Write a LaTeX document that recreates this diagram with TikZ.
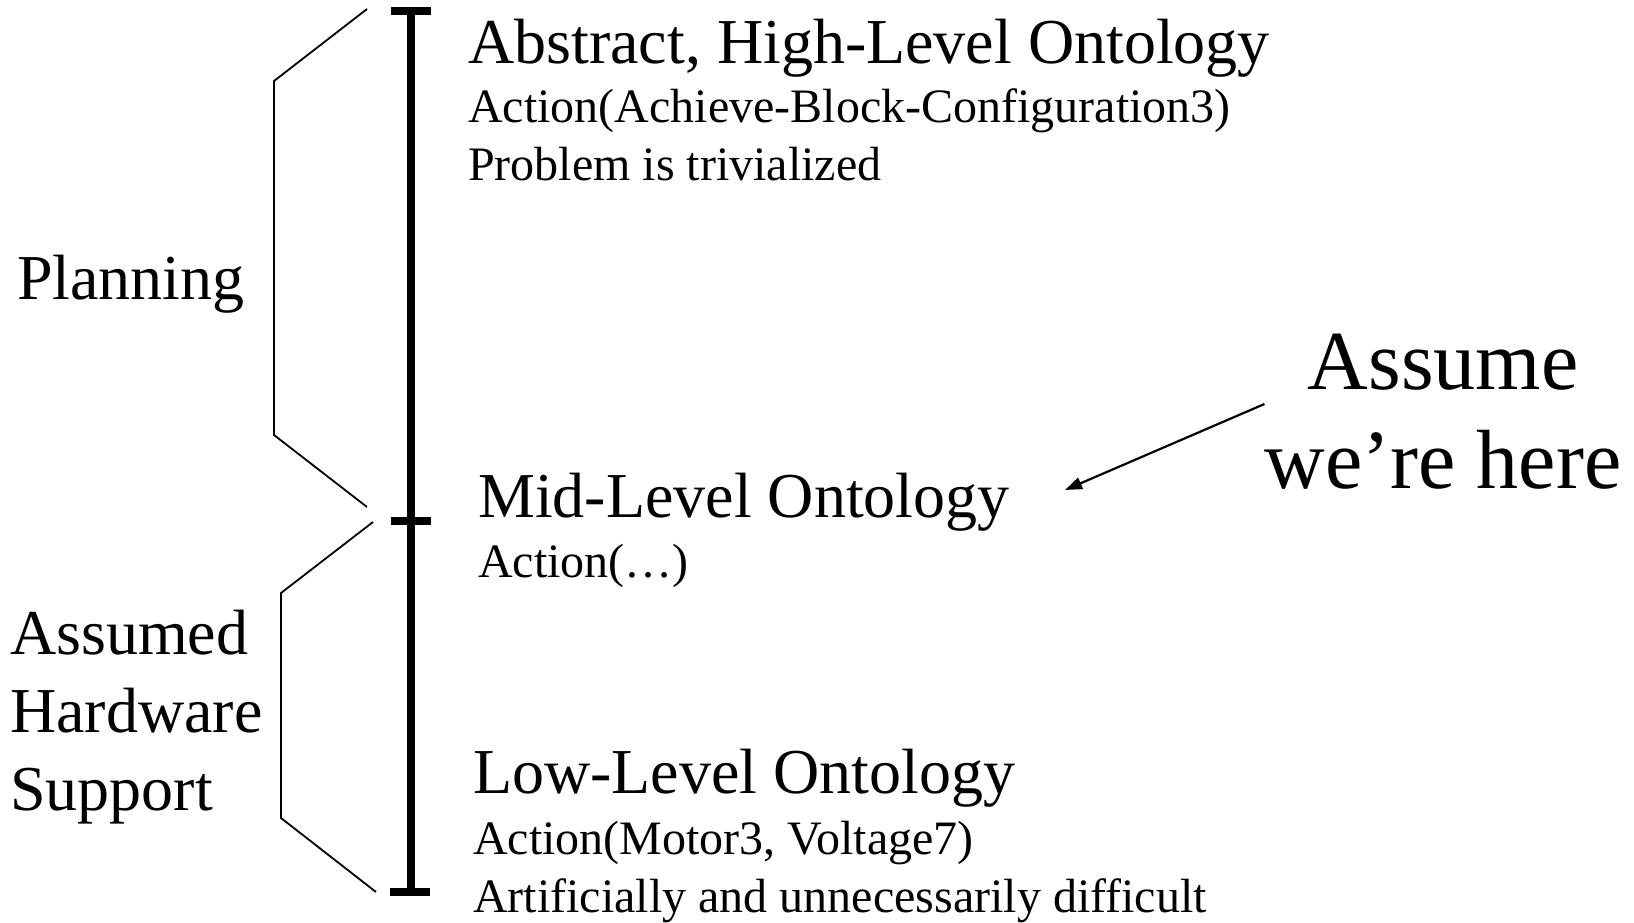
\documentclass[tikz,border=0pt]{standalone}
\usepackage{fontspec}
\setmainfont{Liberation Serif}
\usepackage{xcolor}
\usepackage{tikz}
\usetikzlibrary{arrows.meta, positioning, calc}
\definecolor{inkMain}{RGB}{0,0,0}
\tikzset{
  levelTitle/.style={anchor=base west, inner sep=0pt, text=inkMain,
    font=\fontsize{64}{70}\selectfont},
  levelNote/.style={anchor=base west, inner sep=0pt, text=inkMain,
    font=\fontsize{48}{54}\selectfont},
  sideLabel/.style={anchor=base west, inner sep=0pt, align=left, text=inkMain,
    font=\fontsize{64}{78}\selectfont},
  hereLabel/.style={inner sep=0pt, align=center, text=inkMain,
    font=\fontsize{84}{99}\selectfont},
  scaleBar/.style={draw=inkMain, line width=8pt},
  scaleTick/.style={draw=inkMain, line width=7.5pt},
  braceLine/.style={draw=inkMain, line width=1.8pt},
  pointerFlow/.style={-{Triangle[length=17pt,width=12pt]}, draw=inkMain, line width=2.2pt}
}
\begin{document}
\begin{tikzpicture}[x=1pt, y=-1pt]
  \useasboundingbox (0,0) rectangle (1634,922);

  % the ontology scale
  \coordinate (topEnd) at (411,11);
  \coordinate (midEnd) at (411,521);
  \coordinate (lowEnd) at (411,892);
  \draw[scaleBar] (topEnd) -- (lowEnd);
  \draw[scaleTick] ($(topEnd)+(-20,0)$) -- ($(topEnd)+(20,0)$);
  \draw[scaleTick] ($(midEnd)+(-20,0)$) -- ($(midEnd)+(20,0)$);
  \draw[scaleTick] ($(lowEnd)+(-21,0)$) -- ($(lowEnd)+(19,0)$);

  % brackets
  \draw[braceLine] (367,9) -- (274,81) -- (274,435) -- (367,507);
  \draw[braceLine] (373,522) -- (281,593) -- (281,818) -- (376,892);

  \node[sideLabel] (planning) at (17,299) {Planning};
  \node[sideLabel] (hardware) at (10,810) {Assumed\\Hardware\\Support};

  \node[levelTitle] (abstract) at (468,63) {Abstract, High-Level Ontology};
  \node[levelNote, below=59pt of abstract.base west, anchor=base west] (abstractAct) {Action(Achieve-Block-Configuration3)};
  \node[levelNote, below=58pt of abstractAct.base west, anchor=base west] (abstractNote) {Problem is trivialized};

  \node[levelTitle] (mid) at (478,517) {Mid-Level Ontology};
  \node[levelNote, below=60pt of mid.base west, anchor=base west] (midAct) {Action(…)};

  \node[levelTitle] (low) at (473,793) {Low-Level Ontology};
  \node[levelNote, below=61pt of low.base west, anchor=base west] (lowAct) {Action(Motor3, Voltage7)};
  \node[levelNote, below=58pt of lowAct.base west, anchor=base west] (lowNote) {Artificially and unnecessarily difficult};

  \node[hereLabel] (assume) at (1443,412) {Assume\\we’re here};
  \coordinate (hereMark) at (1065,490);
  \draw[pointerFlow] ([yshift=8pt]assume.west) -- (hereMark);
\end{tikzpicture}
\end{document}
